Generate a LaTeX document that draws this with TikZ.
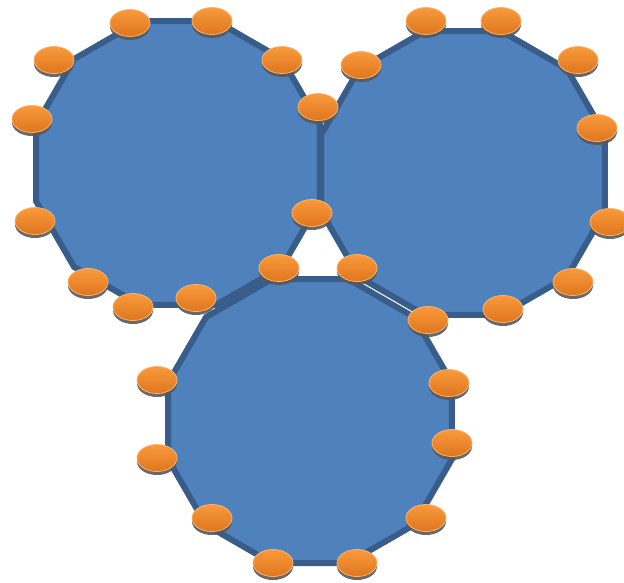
\documentclass[tikz,border=0pt]{standalone}
\usetikzlibrary{shapes.geometric,shadows}

\definecolor{tileblue}{HTML}{4F81BD}
\definecolor{tileedge}{HTML}{385D8A}
\definecolor{discTop}{HTML}{FA9A3C}
\definecolor{discBot}{HTML}{DE761E}
\definecolor{discRim}{HTML}{FBB46E}

\begin{document}
\begin{tikzpicture}[
    x=1pt, y=-1pt,
    tile/.style={fill=tileblue, draw=tileedge, line width=6pt, line join=miter},
    disc/.style={ellipse, minimum width=40pt, minimum height=27pt, inner sep=0pt, top color=discTop, bottom color=discBot, draw=discRim, line width=0.8pt, drop shadow={shadow xshift=0pt, shadow yshift=-3.5pt, fill=black!65, opacity=0.9}}
]
\useasboundingbox (0,0) rectangle (624,582);

% the three twelve-sided tiles
\coordinate (cA) at (178,163);
\coordinate (cB) at (463,173);
\coordinate (cC) at (310,421);

\foreach \c in {cA,cB,cC}
    \draw[tile, shift={(\c)}] (15:147) \foreach \a in {45,75,...,345} { -- (\a:147) } -- cycle;

% discs round the rims
\foreach \p [count=\i] in {
    (130,23), (212,21), (54,60), (282,60), (318,107), (32,119),
    (35,221), (312,213), (88,282), (279,268), (133,307), (196,298),
    (426,21), (501,21), (361,65), (578,60), (597,128), (610,222),
    (357,268), (573,282), (428,320), (503,309),
    (157,380), (449,383), (157,458), (452,443),
    (212,518), (426,518), (273,563), (357,563)}
    \node[disc] (d\i) at \p {};

\end{tikzpicture}
\end{document}
